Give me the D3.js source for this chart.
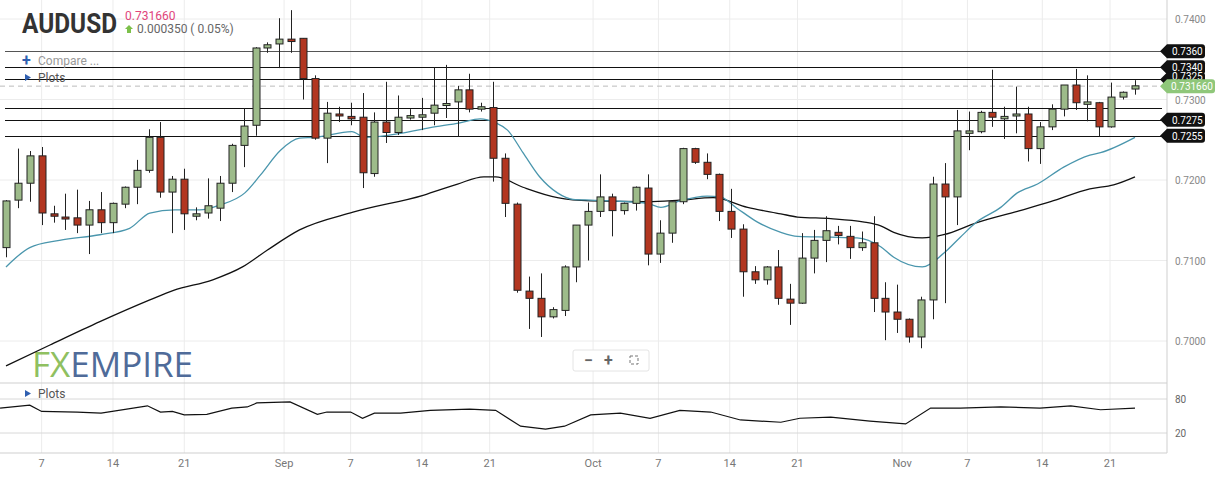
<!DOCTYPE html>
<html>
<head>
<meta charset="utf-8">
<script src="https://cdn.jsdelivr.net/npm/d3@7"></script>
<style>
  body { margin: 0; background: #fff; font-family: Roboto, sans-serif; }
  svg { display: block; }
</style>
</head>
<body>
<svg id="chart" width="1217" height="480"></svg>
<script>
// Data (daily candles, index = candle position)
const opens  = [.7116,.7175,.7196,.7230,.7158,.7154,.7153,.7144,.7163,.7147,.7170,.7191,.7212,.7253,.7185,.7201,.7155,.7159,.7165,.7196,.7243,.7268,.7364,.7369,.7375,
  .7376,.7326,.7252,.7282,.7279,.7278,.7208,.7272,.7259,.7277,.7278,.7283,.7293,.7297,.7312,.7288,.7290,.7227,.7170,.7062,.7053,.7030,.7038,.7092,.7144,
  .7161,.7179,.7162,.7171,.7190,.7108,.7134,.7173,.7239,.7222,.7207,.7161,.7139,.7086,.7076,.7092,.7052,.7047,.7103,.7125,.7135,.7130,.7116,.7122,.7053,
  .7036,.7027,.7005,.7051,.7195,.7179,.7258,.7260,.7284,.7276,.7280,.7282,.7239,.7266,.7288,.7318,.7294,.7296,.7266,.7303,.7313];
const highs  = [.7175,.7239,.7236,.7241,.7168,.7183,.7188,.7174,.7185,.7172,.7192,.7225,.7263,.7272,.7205,.7214,.7166,.7202,.7205,.7245,.7289,.7365,.7371,.7401,.7411,
  .7376,.7330,.7297,.7291,.7296,.7308,.7284,.7322,.7305,.7288,.7302,.7340,.7343,.7317,.7332,.7296,.7322,.7233,.7172,.7080,.7084,.7042,.7094,.7144,.7172,
  .7207,.7183,.7172,.7192,.7207,.7150,.7173,.7240,.7240,.7233,.7208,.7189,.7145,.7093,.7093,.7113,.7071,.7134,.7138,.7155,.7143,.7143,.7136,.7155,.7073,
  .7070,.7028,.7055,.7204,.7221,.7287,.7285,.7286,.7337,.7291,.7316,.7291,.7272,.7294,.7318,.7338,.7330,.7297,.7321,.7310,.7324];
const lows   = [.7104,.7165,.7173,.7144,.7147,.7138,.7134,.7108,.7134,.7134,.7165,.7170,.7209,.7178,.7134,.7138,.7150,.7152,.7149,.7185,.7216,.7255,.7358,.7339,.7358,
  .7300,.7250,.7221,.7272,.7268,.7190,.7204,.7246,.7256,.7275,.7262,.7268,.7277,.7254,.7284,.7285,.7198,.7154,.7060,.7015,.7005,.7028,.7031,.7073,.7100,
  .7154,.7130,.7157,.7162,.7094,.7097,.7122,.7170,.7220,.7201,.7149,.7128,.7055,.7071,.7070,.7045,.7020,.7046,.7084,.7098,.7120,.7102,.7112,.7036,.7001,
  .7010,.6998,.6991,.7027,.7047,.7144,.7237,.7258,.7266,.7251,.7258,.7223,.7220,.7262,.7279,.7287,.7273,.7254,.7265,.7300,.7306];
const closes = [.7174,.7196,.7230,.7159,.7155,.7152,.7144,.7163,.7147,.7171,.7191,.7212,.7253,.7185,.7201,.7158,.7158,.7168,.7196,.7243,.7267,.7364,.7368,.7375,.7372,
  .7326,.7252,.7283,.7280,.7276,.7209,.7272,.7259,.7278,.7280,.7281,.7293,.7295,.7312,.7288,.7291,.7227,.7171,.7063,.7053,.7030,.7039,.7092,.7144,.7161,
  .7179,.7162,.7171,.7191,.7108,.7134,.7173,.7239,.7222,.7207,.7161,.7139,.7086,.7076,.7092,.7053,.7047,.7103,.7125,.7137,.7131,.7116,.7122,.7053,.7036,
  .7027,.7005,.7051,.7195,.7179,.7261,.7261,.7284,.7278,.7279,.7282,.7239,.7266,.7288,.7318,.7296,.7297,.7266,.7303,.7309,.7317];

// moving averages: [candle index, price]
const maFast = [[0,.7092],[2,.7116],[4.5,.7125],[7.9,.7132],[10.4,.7140],[12.1,.7159],[14.2,.7163],[16.3,.7163],[18,.7169],[20.1,.7184],[21.4,.7206],
  [23.1,.7237],[24.7,.7252],[26,.7253],[29.1,.7260],[30.2,.7253],[33.2,.7258],[35.7,.7265],[38.2,.7271],[39.9,.7276],[41.2,.7271],[42.2,.7262],[43.5,.7234],
  [44.9,.7204],[46.4,.7184],[47.7,.7176],[49.2,.7175],[51.1,.7174],[54,.7171],[55.1,.7166],[56.7,.7174],[59,.7180],[60.1,.7179],[61.5,.7165],[63.2,.7148],
  [65.2,.7135],[66.6,.7130],[69.4,.7129],[71.6,.7128],[73.6,.7117],[74.7,.7104],[77.1,.7092],[78.9,.7109],[80.3,.7129],[81.7,.7148],[83.7,.7166],
  [85.1,.7184],[86.8,.7195],[89,.7216],[91.2,.7231],[92.1,.7234],[95,.7253]];
const maSlow = [[0,.6969],[3.7,.6995],[7.9,.7024],[12.1,.7051],[14.1,.7063],[17.4,.7076],[19.9,.7092],[22,.7113],[24.7,.7138],[29.2,.7160],[35.1,.7181],
  [38,.7195],[40.2,.7204],[41.2,.7204],[43.5,.7191],[46.4,.7178],[49.2,.7174],[54,.7173],[56.7,.7175],[59.5,.7178],[62.4,.7166],[65.2,.7158],[66.6,.7154],
  [69.4,.7152],[72.1,.7148],[73.6,.7143],[74.7,.7135],[77.1,.7128],[78.9,.7132],[81.7,.7147],[85.1,.7161],[87.9,.7173],[91.2,.7189],[93.2,.7194],[95,.7204]];

// oscillator in lower panel: [candle index, value]
const osc = [[-0.5,64],[2,69],[3,58],[6,57],[8,55],[11.9,68],[13,57],[14,58],[15,52],[16.9,53],[19,64],[20.3,66],[21.1,73],[23.9,75],[26.2,53],[27,57],
  [29,57],[30,46],[31,55],[33.2,55],[35.7,60],[39,62],[41.2,60],[43.3,32],[45.4,27],[47,32],[49.2,52],[51.7,55],[54.2,46],[56.7,60],[59.3,57],[61.8,43],
  [65.2,39],[66.8,46],[69.4,48],[72.7,41],[75.7,36],[77.8,64],[80.3,64],[83.7,66],[87,64],[89.6,68],[92.1,61],[95,64]];

const priceTicks = [0.74, 0.73, 0.72, 0.71, 0.70];
const levels = [0.7360, 0.7340, 0.7325, 0.7290, 0.7275, 0.7255];
const levelLabels = ["0.7360", "0.7340", "0.7325", "", "0.7275", "0.7255"];
const lastPrice = 0.73166;
const dateTicks = [[3,"7"],[9,"14"],[15,"21"],[23.4,"Sep"],[29,"7"],[35,"14"],[40.7,"21"],[49.4,"Oct"],[54.9,"7"],[60.9,"14"],[66.6,"21"],[75.4,"Nov"],[80.9,"7"],[87.2,"14"],[92.9,"21"]];
const oscTicks = [80, 20];

const svg = d3.select("#chart");
const x = d3.scaleLinear([0, 95], [6, 1135]);
const y = d3.scaleLinear([0.70, 0.74], [341, 19]);
const yOsc = d3.scaleLinear([20, 80], [433, 399]);
const plotRight = 1167;

// grid
svg.append("g").selectAll("line").data(dateTicks).join("line")
  .attr("x1", d => x(d[0])).attr("x2", d => x(d[0])).attr("y1", 0).attr("y2", 453)
  .attr("stroke", "#ececec");
svg.append("g").selectAll("line").data(priceTicks).join("line")
  .attr("x1", 0).attr("x2", plotRight).attr("y1", d => y(d)).attr("y2", d => y(d))
  .attr("stroke", "#ececec");
svg.append("g").selectAll("line").data(oscTicks).join("line")
  .attr("x1", 0).attr("x2", plotRight).attr("y1", d => yOsc(d)).attr("y2", d => yOsc(d))
  .attr("stroke", "#d8d8d8");

// panel borders
svg.append("line").attr("x1", 0).attr("x2", plotRight).attr("y1", 383).attr("y2", 383).attr("stroke", "#cfcfcf");
svg.append("line").attr("x1", 0).attr("x2", plotRight).attr("y1", 453).attr("y2", 453).attr("stroke", "#cfcfcf");
svg.append("line").attr("x1", plotRight).attr("x2", plotRight).attr("y1", 0).attr("y2", 453).attr("stroke", "#cfcfcf");

// logo
const logo = svg.append("text").attr("x", 32).attr("y", 377).attr("textLength", 161).attr("lengthAdjust", "spacingAndGlyphs")
  .style("font-family", "'Open Sans', sans-serif").style("font-size", "34px");
logo.append("tspan").attr("fill", "#8fc060").text("FX");
logo.append("tspan").attr("fill", "#4f6b99").text("EMPIRE");

// support/resistance levels
svg.append("g").selectAll("line").data(levels).join("line")
  .attr("x1", 5).attr("x2", 1162).attr("y1", d => Math.round(y(d)) + 0.5).attr("y2", d => Math.round(y(d)) + 0.5)
  .attr("stroke", (d, i) => i === 0 ? "#555" : "#111").attr("stroke-width", 1.2);
svg.append("line").attr("x1", 0).attr("x2", plotRight).attr("y1", y(lastPrice)).attr("y2", y(lastPrice))
  .attr("stroke", "#bbb").attr("stroke-dasharray", "5,4");

// moving averages
const line = d3.line().curve(d3.curveMonotoneX).x(d => x(d[0])).y(d => y(d[1]));
svg.append("path").attr("d", line(maSlow)).attr("fill", "none").attr("stroke", "#111").attr("stroke-width", 1.3);
svg.append("path").attr("d", line(maFast)).attr("fill", "none").attr("stroke", "#4a96ad").attr("stroke-width", 1.3);

// candles
const idx = d3.range(opens.length);
const up = i => closes[i] >= opens[i];
const candles = svg.append("g");
candles.selectAll("line").data(idx).join("line")
  .attr("x1", i => Math.round(x(i)) + 0.5).attr("x2", i => Math.round(x(i)) + 0.5)
  .attr("y1", i => y(highs[i])).attr("y2", i => y(lows[i]))
  .attr("stroke", "#222");
candles.selectAll("rect").data(idx).join("rect")
  .attr("x", i => Math.round(x(i)) - 3).attr("width", 7)
  .attr("y", i => y(Math.max(opens[i], closes[i])))
  .attr("height", i => Math.max(2, Math.abs(y(opens[i]) - y(closes[i]))))
  .attr("fill", i => up(i) ? "#9dbb8a" : "#b23620")
  .attr("stroke", "#222").attr("stroke-width", 1);

// oscillator
const oscLine = d3.line().x(d => x(d[0])).y(d => yOsc(d[1]));
svg.append("path").attr("d", oscLine(osc)).attr("fill", "none").attr("stroke", "#111").attr("stroke-width", 1.2);

// right axis
svg.append("g").selectAll("text").data(priceTicks).join("text")
  .attr("x", 1175).attr("y", d => y(d) + 4).text(d => d.toFixed(4))
  .attr("fill", "#888").style("font-size", "10px");
svg.append("g").selectAll("text").data(oscTicks).join("text")
  .attr("x", 1175).attr("y", d => yOsc(d) + 4).text(d => d)
  .attr("fill", "#666").style("font-size", "10px");

// level tags (0.7325 sits under the current price tag, as in the source)
const tagPath = (yy, w) => `M1160,${yy} L1167,${yy - 7} L${1160 + w},${yy - 7} Q${1163 + w},${yy - 7} ${1163 + w},${yy - 4} L${1163 + w},${yy + 4} Q${1163 + w},${yy + 7} ${1160 + w},${yy + 7} L1167,${yy + 7} Z`;
const tags = svg.append("g").selectAll("g").data(levels.map((d, i) => [d, levelLabels[i]]).filter(d => d[1])).join("g");
tags.append("path").attr("d", d => tagPath(y(d[0]), 42)).attr("fill", "#111");
tags.append("text").attr("x", 1172).attr("y", d => y(d[0]) + (d[1] === "0.7325" ? 1 : 4)).text(d => d[1])
  .attr("fill", "#fff").style("font-size", "10px");
const cur = svg.append("g");
cur.append("path").attr("d", tagPath(y(lastPrice), 52)).attr("fill", "#8fc77a");
cur.append("text").attr("x", 1171).attr("y", y(lastPrice) + 4).text(lastPrice.toFixed(6))
  .attr("fill", "#fff").style("font-size", "10px");

// date axis
svg.append("g").selectAll("text").data(dateTicks).join("text")
  .attr("x", d => x(d[0])).attr("y", 467).attr("text-anchor", "middle").text(d => d[1])
  .attr("fill", "#777").style("font-size", "11px");

// header
svg.append("text").attr("x", 22).attr("y", 33).text("AUDUSD").attr("textLength", 95).attr("lengthAdjust", "spacingAndGlyphs")
  .style("font-size", "27px").style("font-weight", "bold").attr("fill", "#333");
svg.append("text").attr("x", 125).attr("y", 20).text(lastPrice.toFixed(6))
  .style("font-size", "12px").attr("fill", "#e0457b");
svg.append("path").attr("d", "M129,25 L133,29 L131,29 L131,33 L127,33 L127,29 L125,29 Z").attr("fill", "#7cc04a");
svg.append("text").attr("x", 137).attr("y", 33).text("0.000350 ( 0.05%)")
  .style("font-size", "12px").attr("fill", "#666");

// menu items
svg.append("text").attr("x", 22).attr("y", 66).text("+").attr("fill", "#2f5fb0")
  .style("font-size", "16px").style("font-weight", "bold");
svg.append("text").attr("x", 38).attr("y", 65).text("Compare ...").attr("fill", "#999").style("font-size", "12px");
[[79, "Plots"], [395, "Plots"]].forEach(([yy, t]) => {
  svg.append("path").attr("d", `M25,${yy - 5} L31,${yy - 1.5} L25,${yy + 2} Z`).attr("fill", "#2f5fb0");
  svg.append("text").attr("x", 38).attr("y", yy + 3).text(t).attr("fill", "#555").style("font-size", "12px");
});

// zoom controls
const zc = svg.append("g");
zc.append("rect").attr("x", 573).attr("y", 350).attr("width", 76).attr("height", 21).attr("rx", 2)
  .attr("fill", "#fff").attr("stroke", "#e4e4e4");
zc.append("text").attr("x", 584).attr("y", 366).text("−").attr("fill", "#666").style("font-size", "16px").style("font-weight", "bold");
zc.append("text").attr("x", 604).attr("y", 366).text("+").attr("fill", "#666").style("font-size", "16px").style("font-weight", "bold");
zc.append("rect").attr("x", 630).attr("y", 356).attr("width", 8).attr("height", 8)
  .attr("fill", "none").attr("stroke", "#777").attr("stroke-dasharray", "3,2");
</script>
</body>
</html>
